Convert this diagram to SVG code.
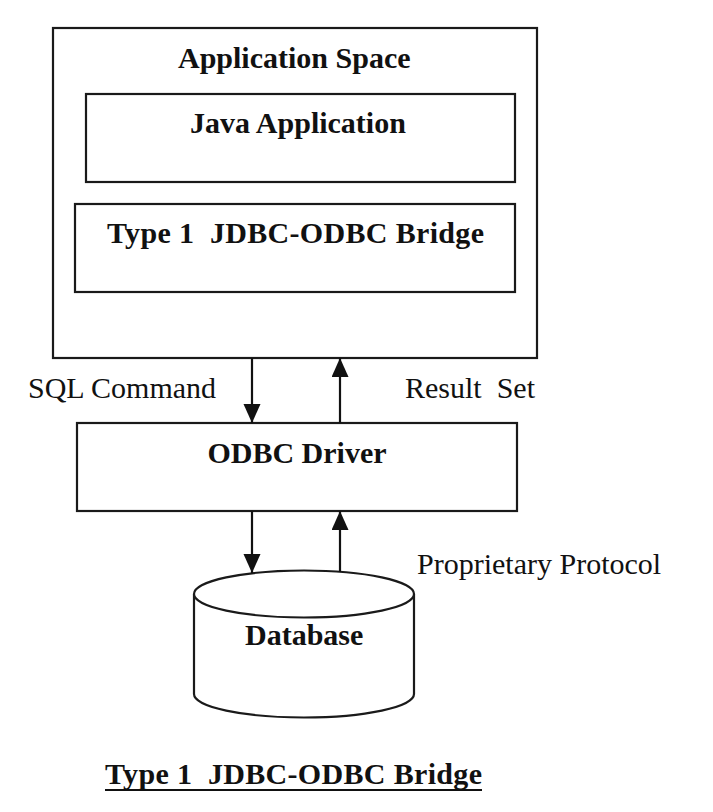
<svg xmlns="http://www.w3.org/2000/svg" width="713" height="812" viewBox="0 0 713 812">
<style>
.box{fill:#fff;stroke:#1a1a1a;stroke-width:2.2}
.b{font-family:"Liberation Serif","Times New Roman",serif;font-weight:bold;font-size:30px;fill:#111}
.r{font-family:"Liberation Serif","Times New Roman",serif;font-size:30px;fill:#111}
.c{stroke:#111;stroke-width:2.2;fill:none}
</style>
<defs>
<marker id="ah" markerUnits="userSpaceOnUse" markerWidth="20" markerHeight="18" refX="19" refY="8.5" orient="auto">
<path d="M0,0 L19,8.5 L0,17 z" fill="#111"/>
</marker>
</defs>
<rect width="713" height="812" fill="#fff"/>
<g id="app-space">
<rect class="box" x="53" y="28" width="484" height="330"/>
<text class="b" x="178" y="68">Application Space</text>
</g>
<g id="java-app">
<rect class="box" x="86" y="94" width="429" height="88"/>
<text class="b" x="190" y="133">Java Application</text>
</g>
<g id="bridge">
<rect class="box" x="75" y="204" width="440" height="88"/>
<text class="b" x="107" y="243" xml:space="preserve" textLength="377" lengthAdjust="spacing">Type 1  JDBC-ODBC Bridge</text>
</g>
<g id="odbc-driver">
<rect class="box" x="77" y="423" width="440" height="88"/>
<text class="b" x="297" y="463" text-anchor="middle">ODBC Driver</text>
</g>
<g id="database">
<path class="box" d="M194,594 L194,694 A110,23.5 0 0 0 414,694 L414,594"/>
<ellipse class="box" cx="304" cy="594" rx="110" ry="23.5"/>
<text class="b" x="245" y="645">Database</text>
</g>
<g id="connectors">
<line class="c" x1="252" y1="358" x2="252" y2="423" marker-end="url(#ah)"/>
<line class="c" x1="340" y1="423" x2="340" y2="358" marker-end="url(#ah)"/>
<line class="c" x1="252" y1="511" x2="252" y2="573" marker-end="url(#ah)"/>
<line class="c" x1="340" y1="572" x2="340" y2="511" marker-end="url(#ah)"/>
<text class="r" x="28" y="398">SQL Command</text>
<text class="r" x="405" y="398" xml:space="preserve">Result  Set</text>
<text class="r" x="417" y="574">Proprietary Protocol</text>
</g>
<g id="caption">
<text class="b" x="105" y="784" xml:space="preserve" textLength="377" lengthAdjust="spacing">Type 1  JDBC-ODBC Bridge</text>
<line x1="105" y1="790" x2="482" y2="790" stroke="#111" stroke-width="2.2"/>
</g>
</svg>
